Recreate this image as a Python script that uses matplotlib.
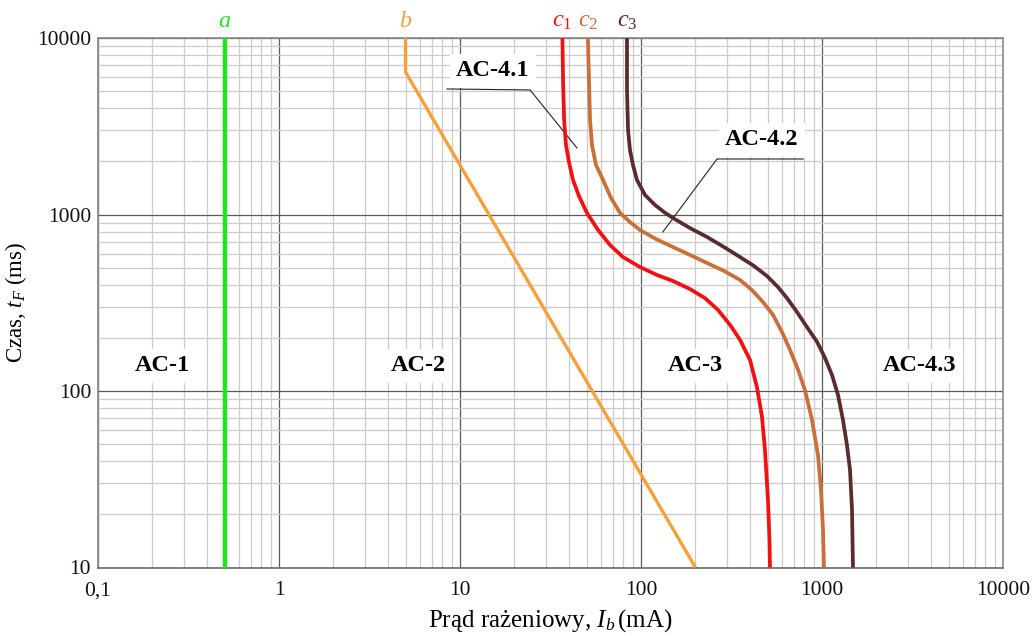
import matplotlib
matplotlib.use("Agg")
import matplotlib.pyplot as plt
from matplotlib.ticker import FixedLocator, LogLocator, NullFormatter

# Threshold curves of the time/current zones (current in mA, time in ms)
a_current = [0.5, 0.5]
a_time = [10, 10000]

b_current = [5.0, 5.0, 200.0]
b_time = [10000, 6420, 10]

c1_current = [36.8, 37.1, 37.6, 38.5, 40.0, 42.1, 45.4, 50.3, 57.9, 67.4, 79.5, 98.7,
              122.6, 150.2, 186.5, 225.7, 266.4, 310.2, 352.4, 400.1, 437.4, 466.1,
              484.2, 503.0, 512.7, 516.0]
c1_time = [10000, 5781, 3431, 2476, 1984, 1569, 1273, 1020, 817, 672, 574, 504,
           454, 420, 378, 336, 288, 237, 195, 150, 105, 71.2,
           46.3, 24.1, 14.3, 10]

c2_current = [50.9, 51.6, 52.3, 53.6, 56.4, 61.7, 68.3, 76.6, 86.9, 98.7, 121.0, 150.2,
              186.5, 231.5, 287.4, 352.4, 410.5, 472.1, 536.2, 601.2, 665.8, 737.0,
              805.5, 880.6, 950.4, 987.4, 1012.8, 1025.7]
c2_time = [10000, 5781, 3431, 2476, 1908, 1569, 1240, 1020, 907, 817, 726, 654,
           590, 531, 479, 426, 373, 319, 270, 216, 171, 132,
           101, 68.5, 43.4, 27.5, 16.3, 10]

c3_current = [83.7, 83.7, 84.8, 86.9, 90.3, 95.0, 105.2, 119.5, 134.0, 150.2, 186.5,
              231.5, 287.4, 352.4, 421.1, 496.7, 571.3, 640.7, 727.7, 826.3, 938.5,
              1039, 1136, 1226, 1306, 1374, 1428, 1465, 1483]
c3_time = [10000, 5075, 3012, 2320, 1908, 1569, 1290, 1132, 1033, 955, 838,
           746, 654, 574, 511, 448, 388, 336, 280, 230, 190,
           154, 123, 94.9, 68.5, 49.4, 35.7, 21.2, 10]

x_ticks = [0.1, 1, 10, 100, 1000, 10000]
x_tick_labels = ["0,1", "1", "10", "100", "1000", "10000"]
y_ticks = [10, 100, 1000, 10000]
y_tick_labels = ["10", "100", "1000", "10000"]

zone_names = ["AC-1", "AC-2", "AC-3", "AC-4.3", "AC-4.1", "AC-4.2"]
zone_current = [0.226, 5.86, 198.6, 3475, 15.2, 466]
zone_time = [138.6, 138.6, 138.6, 138.6, 6507, 2643]

serif = ["Liberation Serif", "DejaVu Serif"]
plt.rcParams["font.family"] = serif
plt.rcParams["mathtext.fontset"] = "custom"
plt.rcParams["mathtext.rm"] = "Liberation Serif"
plt.rcParams["mathtext.it"] = "Liberation Serif:italic"

fig = plt.figure(figsize=(10.35, 6.36), dpi=100)
ax = fig.add_axes([98 / 1035, (636 - 567.5) / 636, 905 / 1035, 529.5 / 636])
ax.set_xscale("log")
ax.set_yscale("log")
ax.set_xlim(0.1, 10000)
ax.set_ylim(10, 10000)

# grid
ax.xaxis.set_major_locator(FixedLocator(x_ticks))
ax.yaxis.set_major_locator(FixedLocator(y_ticks))
ax.xaxis.set_minor_locator(LogLocator(base=10, subs=range(2, 10), numticks=20))
ax.yaxis.set_minor_locator(LogLocator(base=10, subs=range(2, 10), numticks=20))
ax.xaxis.set_minor_formatter(NullFormatter())
ax.yaxis.set_minor_formatter(NullFormatter())
ax.set_xticklabels(x_tick_labels)
ax.set_yticklabels(y_tick_labels)
ax.grid(which="minor", color="#cbcbcb", linewidth=0.9, zorder=0)
ax.grid(which="major", color="#5a5a5a", linewidth=0.9, zorder=0)
ax.set_axisbelow(True)
ax.tick_params(which="both", length=0, labelsize=15.5, colors="#111111")
ax.tick_params(axis="x", pad=10)
ax.tick_params(axis="y", pad=5)
for side in ["left", "right", "top", "bottom"]:
    ax.spines[side].set_color("#8a8a8a")
    ax.spines[side].set_linewidth(1.2)
ax.spines["bottom"].set_color("#6a6a6a")

# leader lines for the AC-4.1 and AC-4.2 labels
ax.plot([8.47, 24.4, 44.3], [5143, 5076, 2381], color="#222222", lw=0.8, zorder=3)
ax.plot([785, 263, 132], [2063, 2063, 796], color="#222222", lw=0.8, zorder=3)

# curves
ax.plot(a_current, a_time, color="#1ee61e", lw=3.2, zorder=4, solid_capstyle="butt")
ax.plot(b_current, b_time, color="#f7a03a", lw=2.4, zorder=4, solid_capstyle="butt")
for xs, ys, col in [(c1_current, c1_time, "#f21010"),
                    (c2_current, c2_time, "#c96f38"),
                    (c3_current, c3_time, "#5b2b2d")]:
    ax.plot(xs, ys, color=col, lw=2.7, zorder=4, solid_capstyle="butt",
            solid_joinstyle="round")

# zone labels
for name, xc, yt in zip(zone_names, zone_current, zone_time):
    ax.text(xc, yt, name, fontsize=17.5, fontweight="bold", ha="center", va="center",
            zorder=5, bbox=dict(boxstyle="square,pad=0.25", fc="white", ec="none"))

# curve names above the frame
curve_tags = [("a", 0.5, "#1ee61e"), ("b", 5.0, "#f7a03a"), ("c_1", 36.8, "#f21010"),
              ("c_2", 50.9, "#c96f38"), ("c_3", 83.7, "#5b2b2d")]
for tag, xc, col in curve_tags:
    ax.text(xc, 10000 * 1.08, r"$\mathit{%s}$" % tag, color=col, fontsize=17.5,
            ha="center", va="bottom")

ax.set_xlabel(r"Prąd rażeniowy, $\mathit{I}_{\mathit{b}}\,$(mA)", fontsize=18, labelpad=5)
ax.set_ylabel(r"Czas, $\mathit{t}_{\mathit{F}}$ (ms)", fontsize=16.5, labelpad=6)

fig.savefig("out.png", dpi=100)
